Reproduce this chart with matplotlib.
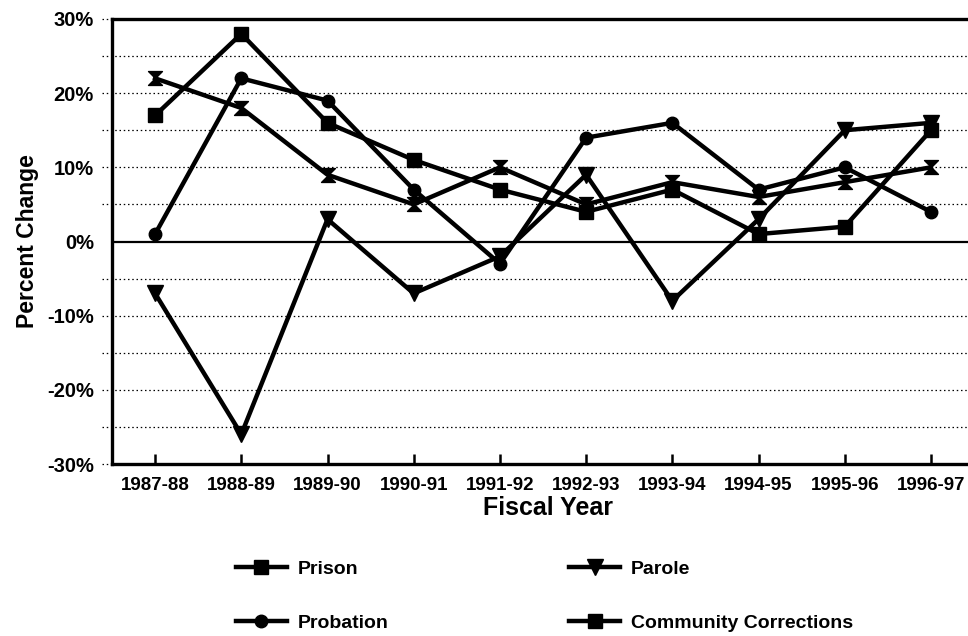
import matplotlib
matplotlib.use("Agg")
import matplotlib.pyplot as plt
from matplotlib.path import Path
from matplotlib.lines import Line2D
from matplotlib.ticker import FuncFormatter

plt.rcParams['font.family'] = ['Liberation Sans', 'DejaVu Sans']

years = ["1987-88", "1988-89", "1989-90", "1990-91", "1991-92",
         "1992-93", "1993-94", "1994-95", "1995-96", "1996-97"]
prison = [17, 28, 16, 11, 7, 4, 7, 1, 2, 15]
probation = [1, 22, 19, 7, -3, 14, 16, 7, 10, 4]
parole = [-7, -26, 3, -7, -2, 9, -8, 3, 15, 16]
community = [22, 18, 9, 5, 10, 5, 8, 6, 8, 10]

# bow-tie marker used for community corrections in the plot area
hourglass = Path([(-1, 1), (1, 1), (0, 0), (1, -1), (-1, -1), (0, 0), (-1, 1)],
                 [Path.MOVETO, Path.LINETO, Path.LINETO, Path.LINETO,
                  Path.LINETO, Path.LINETO, Path.CLOSEPOLY])

fig = plt.figure(figsize=(9.68, 6.36), dpi=100)
ax = fig.add_axes([112/968, 1-464/636, 1-112/968, (464-19)/636])

x = list(range(len(years)))
lw = 3.2
ax.plot(x, community, color='black', lw=lw, marker=hourglass, markersize=10, zorder=4)
ax.plot(x, prison, color='black', lw=lw, marker='s', markersize=10, zorder=4)
ax.plot(x, probation, color='black', lw=lw, marker='o', markersize=9, zorder=4)
ax.plot(x, parole, color='black', lw=lw, marker='v', markersize=12, zorder=4)

# dotted grid every 5%, poking out a little to the left of the axis
for v in range(-30, 31, 5):
    if v == 0:
        continue
    ax.axhline(v, xmin=-0.012, xmax=1, color='black', lw=0.9,
               linestyle=(0, (1.2, 2.2)), clip_on=False, zorder=1)
ax.axhline(0, color='black', lw=1.6, zorder=2)

ax.set_xlim(-0.5, 9.43)
ax.set_ylim(-30, 30)
ax.set_xticks(x)
ax.set_xticklabels(years, fontsize=13.5, fontweight='bold')
ax.tick_params(axis='x', direction='in', length=7, width=1.8, pad=9)
ax.set_yticks(range(-30, 31, 10))
ax.yaxis.set_major_formatter(FuncFormatter(lambda v, p: f"{int(v)}%"))
ax.tick_params(axis='y', length=0, pad=13, labelsize=14.5)
for t in ax.get_yticklabels():
    t.set_fontweight('bold')

for side in ['left', 'top', 'bottom']:
    ax.spines[side].set_linewidth(2.4)
ax.spines['right'].set_visible(False)

ax.set_ylabel("Percent Change", fontsize=16.5, fontweight='bold', labelpad=6)
fig.text(548/968, 1-508/636, "Fiscal Year", fontsize=18, fontweight='bold',
         ha='center', va='center')

handles = [
    Line2D([], [], color='black', lw=lw, marker='s', markersize=10),
    Line2D([], [], color='black', lw=lw, marker='o', markersize=9),
    Line2D([], [], color='black', lw=lw, marker='v', markersize=12),
    Line2D([], [], color='black', lw=lw, marker='s', markersize=10),
]
labels = ["Prison", "Probation", "Parole", "Community Corrections"]
fig.legend(handles, labels, ncol=2, loc='upper left',
           bbox_to_anchor=(236/968, 1-560/636), frameon=False,
           prop={'size': 14, 'weight': 'bold'}, handlelength=2.6,
           handletextpad=0.57, columnspacing=9.3, labelspacing=1.88,
           borderpad=0, borderaxespad=0)

fig.savefig("out.png", dpi=100)
